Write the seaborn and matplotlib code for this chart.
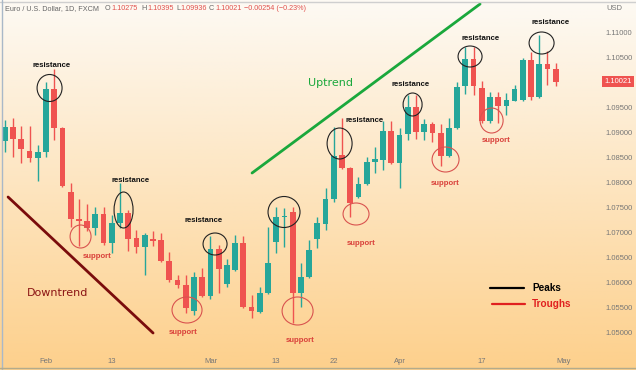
import matplotlib
matplotlib.use("Agg")
import matplotlib.pyplot as plt
from matplotlib.patches import Ellipse
import matplotlib.transforms as mtransforms
import seaborn as sns
import pandas as pd
import numpy as np

# EUR/USD daily candles, 25 Jan - 28 Apr 2023
opens = [1.08834, 1.09108, 1.08880, 1.08640, 1.08500, 1.08608, 1.09874, 1.09088, 1.07808, 1.07274,
         1.07234, 1.07094, 1.07384, 1.06800, 1.07188, 1.07388, 1.06888, 1.06720, 1.06874, 1.06854,
         1.06440, 1.06054, 1.05954, 1.05440, 1.06120, 1.05734, 1.06668, 1.05974, 1.06254, 1.06800,
         1.05508, 1.05420, 1.05800, 1.06820, 1.07308, 1.07420, 1.05788, 1.06108, 1.06874, 1.07174,
         1.07668, 1.08554, 1.08288, 1.07720, 1.07974, 1.08420, 1.08448, 1.09040, 1.08400, 1.08974,
         1.09508, 1.09020, 1.09174, 1.09000, 1.08534, 1.09088, 1.09934, 1.10468, 1.09888, 1.09240,
         1.09708, 1.09534, 1.09640, 1.09654, 1.10454, 1.09708, 1.10374, 1.10275]
highs = [1.09254, 1.09288, 1.09134, 1.09134, 1.08754, 1.10008, 1.10274, 1.09114, 1.08000, 1.07674,
         1.07574, 1.07514, 1.07520, 1.07354, 1.07988, 1.07454, 1.07054, 1.06994, 1.07040, 1.06988,
         1.06620, 1.06154, 1.06154, 1.06220, 1.06288, 1.06934, 1.06754, 1.06468, 1.06954, 1.06934,
         1.05754, 1.05920, 1.07108, 1.07520, 1.07488, 1.07520, 1.06388, 1.06854, 1.07320, 1.07888,
         1.09120, 1.09288, 1.08314, 1.08120, 1.08508, 1.08708, 1.09230, 1.09240, 1.09088, 1.09754,
         1.09754, 1.09268, 1.09220, 1.09174, 1.09288, 1.10020, 1.10708, 1.10714, 1.10040, 1.09820,
         1.09820, 1.09788, 1.09954, 1.10488, 1.10620, 1.10954, 1.10640, 1.10395]
lows = [1.08620, 1.08520, 1.08400, 1.08414, 1.08040, 1.08520, 1.08854, 1.07914, 1.07120, 1.06734,
        1.07040, 1.06954, 1.06754, 1.06588, 1.07088, 1.06640, 1.06588, 1.06154, 1.06734, 1.06414,
        1.06020, 1.05888, 1.05388, 1.05354, 1.05714, 1.05668, 1.05800, 1.05920, 1.06234, 1.05494,
        1.05288, 1.05388, 1.05784, 1.06588, 1.06720, 1.05188, 1.05520, 1.06094, 1.06688, 1.07054,
        1.07620, 1.08274, 1.07320, 1.07688, 1.07954, 1.08188, 1.08254, 1.08374, 1.07888, 1.08854,
        1.08868, 1.08854, 1.08820, 1.08334, 1.08514, 1.09074, 1.09774, 1.09754, 1.09188, 1.09200,
        1.09188, 1.09354, 1.09634, 1.09634, 1.09654, 1.09688, 1.09954, 1.09936]
closes = [1.09108, 1.08880, 1.08668, 1.08500, 1.08608, 1.09874, 1.09088, 1.07940, 1.07268, 1.07244,
          1.07104, 1.07374, 1.06788, 1.07200, 1.07388, 1.06874, 1.06720, 1.06954, 1.06844, 1.06440,
          1.06054, 1.05948, 1.05488, 1.06120, 1.05734, 1.06668, 1.06268, 1.06348, 1.06800, 1.05508,
          1.05440, 1.05800, 1.06400, 1.07308, 1.07334, 1.05788, 1.06108, 1.06654, 1.07188, 1.07668,
          1.08534, 1.08288, 1.07588, 1.07974, 1.08420, 1.08468, 1.09040, 1.08400, 1.08954, 1.09508,
          1.09020, 1.09174, 1.09000, 1.08534, 1.09100, 1.09920, 1.10468, 1.09934, 1.09240, 1.09708,
          1.09540, 1.09654, 1.09874, 1.10454, 1.09720, 1.10374, 1.10268, 1.10021]

tick_dates = ["2023-02-01", "2023-02-13", "2023-03-01", "2023-03-13", "2023-03-22",
              "2023-04-03", "2023-04-17", "2023-05-01"]
tick_labels = ["Feb", "13", "Mar", "13", "22", "Apr", "17", "May"]
price_ticks = [1.050, 1.055, 1.060, 1.065, 1.070, 1.075, 1.080, 1.085, 1.090, 1.095, 1.105, 1.110]
last_price = 1.10021

# annotations (x = trading day position, y = price)
resistance_pts = [(5.73, 1.10354), (15.34, 1.08054), (24.22, 1.07254), (43.8, 1.09254),
                  (49.4, 1.09974), (57.9, 1.10894), (66.4, 1.11214)]
support_pts = [(11.2, 1.06534), (21.67, 1.05014), (35.9, 1.04854), (43.32, 1.06794),
               (53.54, 1.07994), (59.74, 1.08834)]
peak_circles = [(5.43, 1.09894, 3.04, 0.0054), (14.43, 1.07454, 2.31, 0.0072),
                (25.56, 1.06774, 2.92, 0.0044), (33.95, 1.07414, 3.89, 0.0062),
                (40.71, 1.08784, 3.04, 0.0062), (49.59, 1.09564, 2.31, 0.0046),
                (56.58, 1.10524, 2.92, 0.0042), (65.28, 1.10794, 3.04, 0.0044)]
trough_circles = [(9.2, 1.06924, 2.55, 0.0046), (22.15, 1.05454, 3.65, 0.0052),
                  (35.6, 1.05434, 3.77, 0.0056), (42.71, 1.07374, 3.16, 0.0044),
                  (53.6, 1.08464, 3.28, 0.005), (59.2, 1.09244, 2.8, 0.005)]

dates = pd.bdate_range("2023-01-25", "2023-05-01")
df = pd.DataFrame({"Open": opens, "High": highs, "Low": lows, "Close": closes},
                  index=dates[:len(opens)])
df["pos"] = np.arange(len(df))
df["up"] = df["Close"] >= df["Open"]

GREEN = "#26a69a"
RED = "#ef5350"
SMALL = "Liberation Sans"

sns.set_theme(style="white")
plt.rcParams["font.family"] = ["DejaVu Sans"]

fig = plt.figure(figsize=(6.36, 3.70), dpi=100)

# gradient background
bg = fig.add_axes([0, 0, 1, 1])
top_c = np.array([253, 250, 244]) / 255
bot_c = np.array([253, 208, 140]) / 255
t = np.linspace(0, 1, 256)[:, None]
grad = top_c * (1 - t) + bot_c * t
bg.imshow(grad[:, None, :].repeat(2, axis=1), aspect="auto", extent=[0, 1, 0, 1])
bg.axis("off")

ax = fig.add_axes([0, 18 / 370, 596 / 636, 349 / 370])
ax.patch.set_alpha(0)

colors = [GREEN if u else RED for u in df["up"]]
ax.vlines(df["pos"], df["Low"], df["High"], colors=colors, lw=1, zorder=2)
body_low = np.minimum(df["Open"], df["Close"])
body_h = np.maximum((df["Close"] - df["Open"]).abs(), 0.00028)
ax.bar(df["pos"], body_h, bottom=body_low, width=0.7, color=colors, lw=0, zorder=3)

# trend lines
sns.lineplot(x=[0.38, 18.02], y=[1.07714, 1.04994], color="#7a0c0c", lw=2, ax=ax, zorder=4)
sns.lineplot(x=[30.06, 57.8], y=[1.08194, 1.11574], color="#1aa83c", lw=2, ax=ax, zorder=4)
ax.text(39.55, 1.09994, "Uptrend", color="#1aa83c", fontsize=8, ha="center", va="center")
ax.text(6.46, 1.05794, "Downtrend", color="#8b1414", fontsize=8, ha="center", va="center")

for x, y, w, h in peak_circles:
    ax.add_patch(Ellipse((x, y), w, h, fill=False, ec="#222222", lw=0.8, zorder=5))
for x, y, w, h in trough_circles:
    ax.add_patch(Ellipse((x, y), w, h, fill=False, ec="#d9534f", lw=0.8, zorder=5))
for x, y in resistance_pts:
    ax.text(x, y, "resistance", fontsize=5.6, family=SMALL, color="#111111", ha="center",
            va="center", fontweight="bold")
for x, y in support_pts:
    ax.text(x, y, "support", fontsize=5.6, family=SMALL, color="#d9403a", ha="center",
            va="center", fontweight="bold")

# manual legend
ax.plot([59.0, 63.2], [1.05894, 1.05894], color="black", lw=1.6)
ax.plot([59.25, 63.3], [1.05574, 1.05574], color="#e02020", lw=1.6)
ax.text(64.1, 1.05894, "Peaks", fontsize=7.2, family=SMALL, color="black", va="center",
        fontweight="bold")
ax.text(64.1, 1.05574, "Troughs", fontsize=7.2, family=SMALL, color="#e02020", va="center",
        fontweight="bold")

ax.set_xlim(-0.6, 71.9)
ax.set_ylim(1.04614, 1.04614 + 349 / 5000)

tick_pos = [dates.get_loc(pd.Timestamp(d)) for d in tick_dates]
ax.set_xticks(tick_pos)
ax.set_xticklabels(tick_labels, family=SMALL)
ax.set_yticks(price_ticks)
ax.set_yticklabels([f"{p:.5f}" for p in price_ticks], family=SMALL)
ax.yaxis.tick_right()
ax.tick_params(axis="y", length=0, pad=7, labelsize=5.5, labelcolor="#777777")
ax.tick_params(axis="x", length=0, pad=4, labelsize=5.5, labelcolor="#777777")
for s in ax.spines.values():
    s.set_visible(False)

# last price tag
tr = mtransforms.blended_transform_factory(ax.transAxes, ax.transData)
ax.text(1.0 + 8 / 596, last_price, f"{last_price:.5f}", transform=tr, fontsize=5.5,
        family=SMALL, color="white", va="center", ha="left",
        bbox=dict(boxstyle="square,pad=0.3", fc="#ef5350", ec="none"))

fig.text(614 / 636, 1 - 8 / 370, "USD", fontsize=5.5, family=SMALL, color="#777777",
         ha="center", va="center")

# header
ty = 1 - 9 / 370
pieces = [(5, "Euro / U.S. Dollar, 1D, FXCM", "#666666"), (105, "O", "#666666"),
          (111, "1.10275", "#e0504c"), (141, "H", "#666666"), (147, "1.10395", "#e0504c"),
          (176, "L", "#666666"), (180, "1.09936", "#e0504c"), (209, "C", "#666666"),
          (215, "1.10021", "#e0504c"), (244, "\u22120.00254 (\u22120.23%)", "#e0504c")]
for px, s, c in pieces:
    fig.text(px / 636, ty, s, fontsize=5.2, family=SMALL, color=c, ha="left", va="center")

# frame lines
fig.add_artist(plt.Line2D([0, 1], [1 - 1.5 / 370] * 2, color="#cfcfcf", lw=1))
fig.add_artist(plt.Line2D([1.5 / 636] * 2, [0, 1], color="#a9b8c8", lw=1))
fig.add_artist(plt.Line2D([0, 1], [2 / 370] * 2, color="#b3ab8c", lw=1))

fig.savefig("out.png", dpi=100)
